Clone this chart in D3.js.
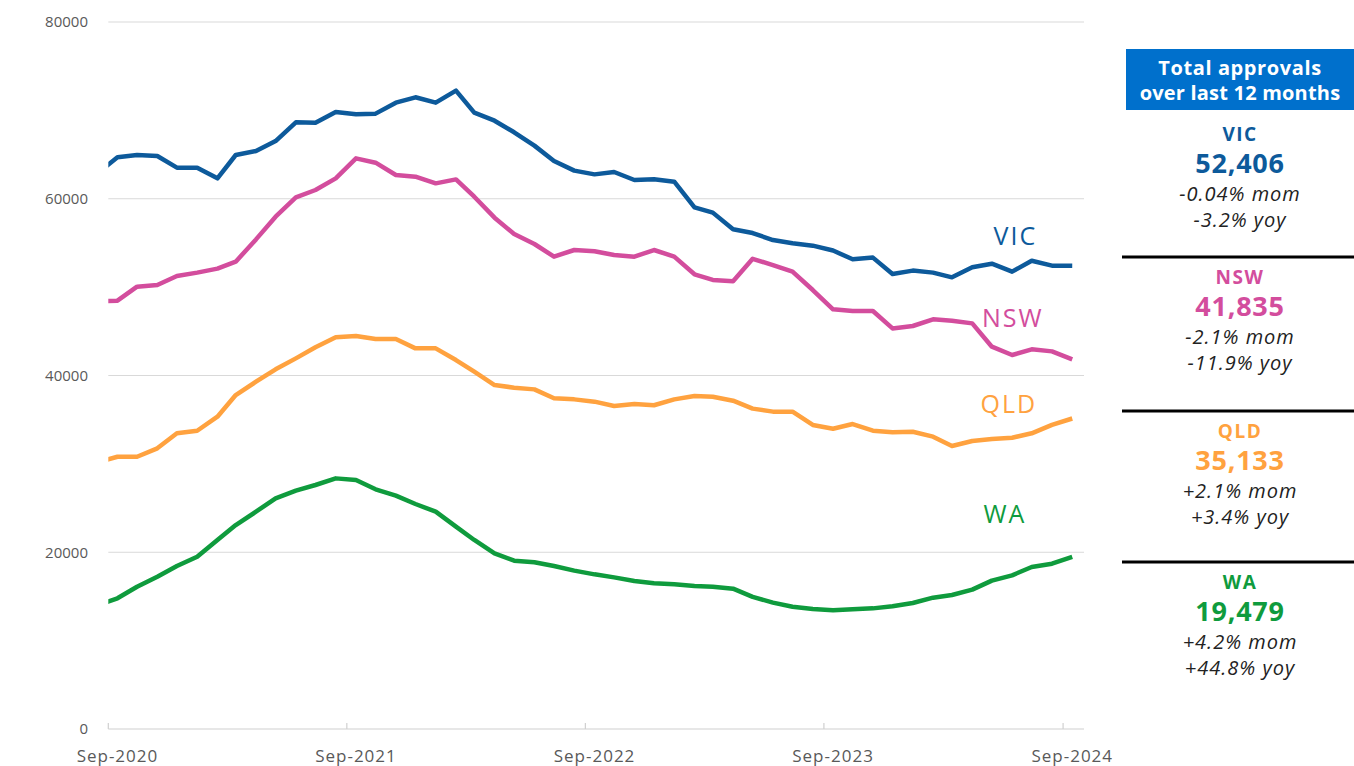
<!DOCTYPE html>
<html>
<head>
<meta charset="utf-8">
<script src="https://cdn.jsdelivr.net/npm/d3@7"></script>
<style>
  body { margin: 0; background: #fff; }
  svg { display: block; font-family: "Open Sans", sans-serif; }
</style>
</head>
<body>
<svg id="chart" width="1354" height="766"></svg>
<script>
// monthly 12-month rolling approvals, Aug-2020 .. Sep-2024 (first point sits just off the plot edge)
const firstMonth = new Date(2020, 7, 15);
const vic = [62860, 64690, 64950, 64840, 63520, 63520, 62310, 64950, 65400, 66530, 68650, 68610, 69820, 69550, 69630, 70870, 71480,
  70870, 72230, 69740, 68830, 67520, 66010, 64270, 63180, 62760, 63030, 62120, 62200, 61930, 59030, 58430, 56540,
  56120, 55330, 54960, 54690, 54140, 53150, 53340, 51490, 51870, 51640, 51110, 52240, 52650, 51750, 52990, 52430, 52406];
const nsw = [48400, 48470, 50050, 50240, 51260, 51640, 52090, 52880, 55400, 57970, 60160, 60990, 62310, 64570, 64080, 62690, 62500,
  61740, 62190, 60230, 57860, 56010, 54880, 53450, 54200, 54050, 53630, 53450, 54200, 53450, 51450, 50810, 50660,
  53200, 52500, 51750, 49670, 47490, 47300, 47300, 45330, 45600, 46360, 46200, 45900, 43260, 42320, 42960, 42730, 41835];
const qld = [30180, 30810, 30810, 31760, 33460, 33750, 35340, 37790, 39300, 40700, 41940, 43190, 44320, 44470, 44130, 44130, 43070,
  43070, 41750, 40430, 38920, 38620, 38430, 37420, 37300, 37040, 36550, 36780, 36630, 37300, 37680, 37600, 37150,
  36250, 35910, 35910, 34400, 33970, 34510, 33760, 33570, 33640, 33080, 32020, 32590, 32810, 32960, 33460, 34410, 35133];
const wa = [13990, 14790, 16100, 17230, 18440, 19500, 21390, 23080, 24590, 26100, 26970, 27610, 28360, 28170, 27120, 26400, 25460,
  24590, 22900, 21390, 19880, 19050, 18860, 18440, 17920, 17500, 17160, 16750, 16480, 16370, 16180, 16100, 15880,
  14950, 14300, 13840, 13580, 13450, 13540, 13650, 13880, 14260, 14860, 15160, 15770, 16790, 17390, 18330, 18700, 19479];

const states = ["VIC", "NSW", "QLD", "WA"];
const colors = ["#0d5a9b", "#d34d9d", "#ffa23f", "#0f9b3d"];
const totals = [52406, 41835, 35133, 19479];
const momText = ["-0.04% mom", "-2.1% mom", "+2.1% mom", "+4.2% mom"];
const yoyText = ["-3.2% yoy", "-11.9% yoy", "+3.4% yoy", "+44.8% yoy"];
// where the in-chart state labels sit: [date, value]
const labelAt = [[new Date(2024, 5, 20), 55800], [new Date(2024, 5, 16), 46500], [new Date(2024, 5, 10), 36700], [new Date(2024, 5, 4), 24300]];
const yTicks = [0, 20000, 40000, 60000, 80000];
const xTickYears = [2020, 2021, 2022, 2023, 2024];

const svg = d3.select("#chart");
const plotLeft = 108.3, plotRight = 1084, plotTop = 22, plotBottom = 729;

const x = d3.scaleTime()
  .domain([new Date(2020, 8, 1), new Date(2024, 9, 3)])
  .range([plotLeft, plotRight]);
const y = d3.scaleLinear().domain([0, 80000]).range([plotBottom, plotTop]);

const series = [vic, nsw, qld, wa].map((vals, i) => ({
  name: states[i],
  color: colors[i],
  values: vals.map((v, j) => ({ date: d3.timeMonth.offset(firstMonth, j), v: v }))
}));

// grid
svg.append("g").selectAll("line")
  .data(yTicks.filter(d => d > 0))
  .enter().append("line")
  .attr("x1", plotLeft).attr("x2", plotRight)
  .attr("y1", d => y(d)).attr("y2", d => y(d))
  .attr("stroke", "#d9d9d9").attr("stroke-width", 1);

svg.append("g").selectAll("text")
  .data(yTicks)
  .enter().append("text")
  .attr("x", 88).attr("y", d => y(d))
  .attr("dy", "0.35em")
  .attr("text-anchor", "end")
  .attr("fill", "#595959")
  .style("font-size", "15px")
  .text(d => d);

// x axis: baseline, ticks pointing up, labels under mid-month
svg.append("line")
  .attr("x1", plotLeft).attr("x2", plotRight)
  .attr("y1", y(0)).attr("y2", y(0))
  .attr("stroke", "#d0d0d0").attr("stroke-width", 1.2);

svg.append("g").selectAll("line")
  .data(xTickYears)
  .enter().append("line")
  .attr("x1", d => x(new Date(d, 8, 1))).attr("x2", d => x(new Date(d, 8, 1)))
  .attr("y1", y(0)).attr("y2", y(0) - 6)
  .attr("stroke", "#d0d0d0").attr("stroke-width", 1.2);

svg.append("g").selectAll("text")
  .data(xTickYears)
  .enter().append("text")
  .attr("x", d => x(new Date(d, 8, 15)))
  .attr("y", 756).attr("dy", "0.35em")
  .attr("text-anchor", "middle")
  .attr("fill", "#595959")
  .style("font-size", "17px")
  .style("letter-spacing", "1px")
  .text(d => "Sep-" + d);

// lines
svg.append("clipPath").attr("id", "plot")
  .append("rect").attr("x", plotLeft).attr("y", 0).attr("width", plotRight - plotLeft).attr("height", plotBottom);

const line = d3.line().x(d => x(d.date)).y(d => y(d.v));

svg.append("g").attr("clip-path", "url(#plot)")
  .selectAll("path")
  .data(series)
  .enter().append("path")
  .attr("d", d => line(d.values))
  .attr("fill", "none")
  .attr("stroke", d => d.color)
  .attr("stroke-width", 4.5)
  .attr("stroke-linejoin", "round");

svg.append("g").selectAll("text")
  .data(series)
  .enter().append("text")
  .attr("x", (d, i) => x(labelAt[i][0]))
  .attr("y", (d, i) => y(labelAt[i][1]))
  .attr("dy", "0.35em")
  .attr("text-anchor", "middle")
  .attr("fill", d => d.color)
  .style("font-size", "25px")
  .style("font-weight", 500)
  .style("letter-spacing", "2px")
  .text(d => d.name);

// right hand panel
const panel = svg.append("g");
panel.append("rect")
  .attr("x", 1126).attr("y", 49).attr("width", 228).attr("height", 61)
  .attr("fill", "#0070cc");
panel.append("text")
  .attr("x", 1240).attr("y", 75)
  .attr("text-anchor", "middle").attr("fill", "#fff")
  .style("font-size", "20px").style("font-weight", 700)
  .style("letter-spacing", "0.6px")
  .text("Total approvals");
panel.append("text")
  .attr("x", 1240).attr("y", 100)
  .attr("text-anchor", "middle").attr("fill", "#fff")
  .style("font-size", "20px").style("font-weight", 700)
  .style("letter-spacing", "0.2px")
  .text("over last 12 months");

const blockTop = [114, 257, 411, 562];
const fmt = d3.format(",");

const blocks = panel.selectAll(".block")
  .data(states)
  .enter().append("g")
  .attr("class", "block")
  .attr("transform", (d, i) => `translate(1240,${blockTop[i]})`);

blocks.filter((d, i) => i > 0).append("line")
  .attr("x1", -118).attr("x2", 114)
  .attr("y1", 0).attr("y2", 0)
  .attr("stroke", "#000").attr("stroke-width", 3);

blocks.append("text")
  .attr("y", 20).attr("dy", "0.35em")
  .attr("text-anchor", "middle")
  .attr("fill", (d, i) => colors[i])
  .style("font-size", "19px").style("font-weight", 700)
  .style("letter-spacing", "1.5px")
  .text(d => d);

blocks.append("text")
  .attr("y", 50).attr("dy", "0.35em")
  .attr("text-anchor", "middle")
  .attr("fill", (d, i) => colors[i])
  .style("font-size", "27px").style("font-weight", 700)
  .style("letter-spacing", "0.8px")
  .text((d, i) => fmt(totals[i]));

blocks.append("text")
  .attr("y", 80).attr("dy", "0.35em")
  .attr("text-anchor", "middle")
  .attr("fill", "#222")
  .style("font-size", "20px").style("font-style", "italic")
  .style("letter-spacing", "1px")
  .text((d, i) => momText[i]);

blocks.append("text")
  .attr("y", 106).attr("dy", "0.35em")
  .attr("text-anchor", "middle")
  .attr("fill", "#222")
  .style("font-size", "20px").style("font-style", "italic")
  .style("letter-spacing", "1px")
  .text((d, i) => yoyText[i]);
</script>
</body>
</html>
